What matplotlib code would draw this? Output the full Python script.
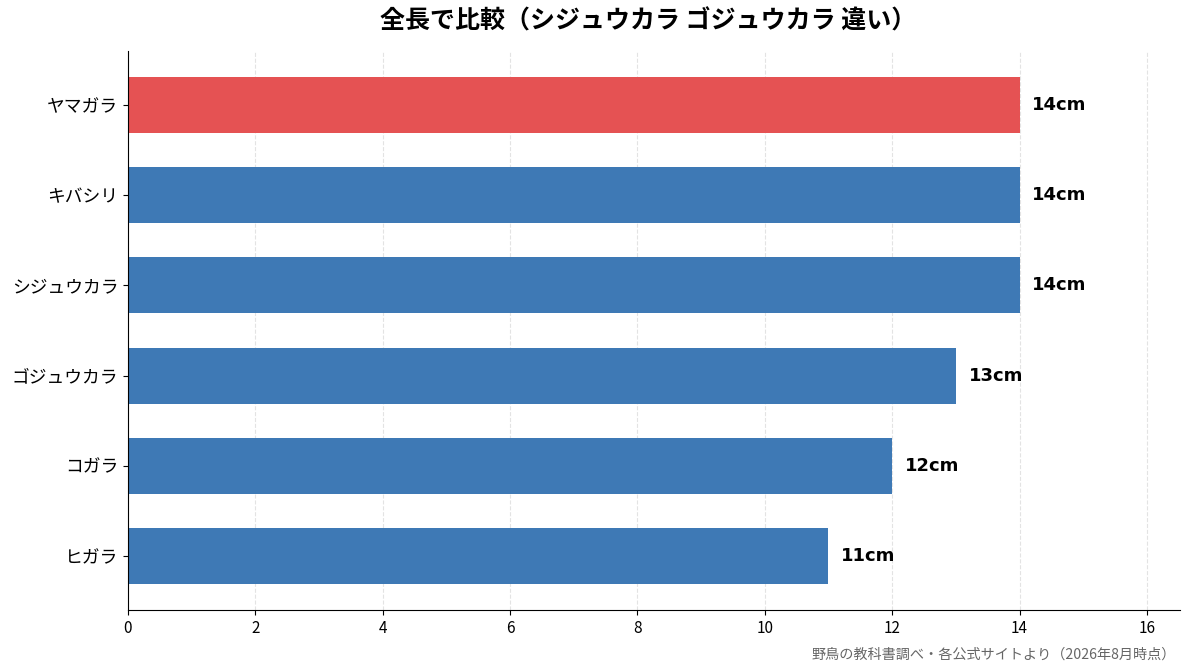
import matplotlib
matplotlib.use("Agg")
import matplotlib.pyplot as plt

plt.rcParams['font.family'] = ['Noto Sans CJK JP', 'DejaVu Sans']

categories = ["ヤマガラ", "キバシリ", "シジュウカラ", "ゴジュウカラ", "コガラ", "ヒガラ"]
values = [14, 14, 14, 13, 12, 11]
highlight = "ヤマガラ"
title = "全長で比較（シジュウカラ ゴジュウカラ 違い）"
source = "野鳥の教科書調べ・各公式サイトより（2026年8月時点）"

fig = plt.figure(figsize=(11.93, 6.72), dpi=100)
ax = fig.add_axes([128/1193, 1 - 610/672, (1180-128)/1193, (610-51)/672])

ypos = list(range(len(categories)))[::-1]
colors = ["#E55253" if c == highlight else "#3E79B5" for c in categories]
ax.barh(ypos, values, height=0.62, color=colors, zorder=2)
for y, v in zip(ypos, values):
    ax.text(v + 0.2, y, f"{v}cm", va="center", ha="left", fontsize=13, fontweight="bold",
            family=['DejaVu Sans', 'Noto Sans CJK JP'], zorder=3)

ax.set_yticks(ypos)
ax.set_yticklabels(categories, fontsize=12.8)
ax.set_ylim(-0.6, 5.6)
ax.set_xlim(0, 16.52)
ax.set_xticks(range(0, 17, 2))
ax.tick_params(axis='x', labelsize=11)
ax.grid(axis='x', linestyle='--', color='#dddddd', alpha=0.8, linewidth=0.8, zorder=0)
ax.set_axisbelow(True)
for s in ["top", "right"]:
    ax.spines[s].set_visible(False)

fig.text(648/1193, 1 - 21/672, title, ha="center", va="center", fontsize=18, fontweight="bold")
fig.text(1176/1193, 1 - 655/672, source, ha="right", va="center", fontsize=10.2, color="#666666")

fig.savefig("out.png", dpi=100)
